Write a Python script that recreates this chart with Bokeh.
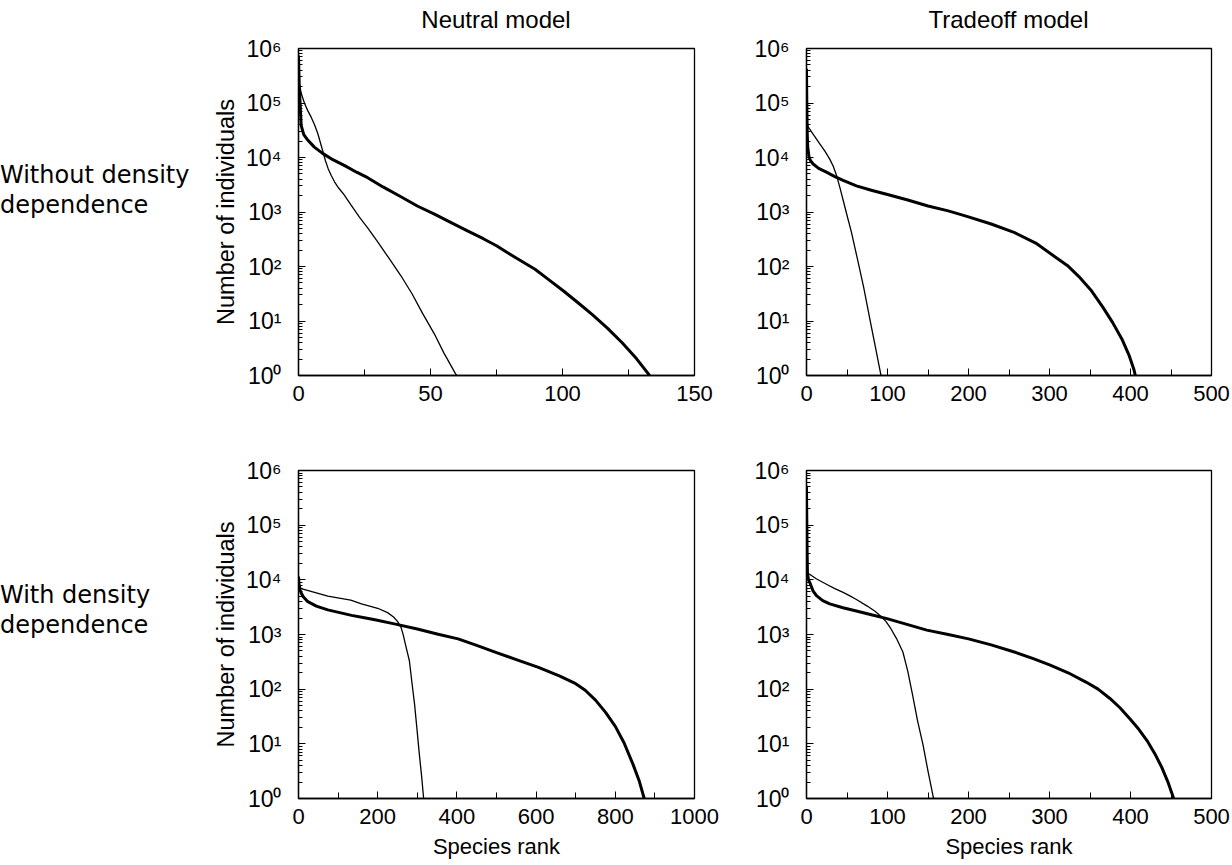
from bokeh.plotting import figure
from bokeh.models import Range1d, FixedTicker, Div
from bokeh.layouts import row, column
from bokeh.embed import file_html
from bokeh.resources import INLINE

# ---------------- data ----------------
column_titles = ["Neutral model", "Tradeoff model"]
row_titles = ["Without density<br>dependence", "With density<br>dependence"]
y_label = "Number of individuals"
x_label = "Species rank"

y_tick_values = [1, 10, 100, 1000, 10000, 100000, 1000000]
y_tick_labels = ["10⁰", "10¹", "10²", "10³", "10⁴", "10⁵", "10⁶"]

# values below are log10(number of individuals) against species rank

# Neutral model, without density dependence
nn_thick_rank = [0, 0.3, 1, 2, 3.5, 6, 9, 13, 17.5, 22, 26.2, 32, 38.8, 45, 51.5, 58, 64.2, 70, 75,
                 82, 89.6, 95, 100.4, 106, 111.2, 117, 122.6, 128, 133]
nn_thick_log = [5.87, 5.3, 4.59, 4.42, 4.32, 4.19, 4.08, 3.96, 3.85, 3.73, 3.63, 3.46, 3.28, 3.11, 2.96,
                2.80, 2.65, 2.51, 2.38, 2.17, 1.95, 1.75, 1.55, 1.33, 1.12, 0.87, 0.60, 0.31, 0]
nn_thin_rank = [0, 0.4, 1.2, 2.3, 3.5, 4.8, 6, 7.3, 8.3, 9.3, 10.2, 11.2, 12.4, 13.7, 15.2, 16.9, 20,
                23, 26.2, 30, 34, 38.8, 43, 47, 51.5, 55, 59.5, 60]
nn_thin_log = [5.45, 5.32, 5.15, 4.99, 4.86, 4.74, 4.61, 4.44, 4.27, 4.10, 3.94, 3.80, 3.67, 3.55, 3.44,
               3.34, 3.12, 2.91, 2.71, 2.45, 2.17, 1.83, 1.50, 1.14, 0.76, 0.42, 0.03, 0]

# Tradeoff model, without density dependence
tn_thick_rank = [0, 0.4, 0.9, 1.5, 3, 5, 8.2, 15, 24.6, 35, 45.2, 61.6, 80, 100, 125, 150, 175, 198,
                 228, 257, 283, 306.6, 322, 336, 351, 365.6, 378, 390, 398, 404, 406]
tn_thick_log = [5.63, 5.0, 4.45, 4.2, 4.02, 3.94, 3.88, 3.80, 3.73, 3.65, 3.58, 3.48, 3.40, 3.32, 3.22,
                3.11, 3.02, 2.92, 2.78, 2.62, 2.43, 2.18, 2.02, 1.82, 1.57, 1.26, 0.97, 0.65, 0.38, 0.12, 0]
tn_thin_rank = [0, 2, 9, 16.4, 22.5, 28.7, 33, 36.9, 41, 45.2, 50, 55.6, 63, 70.4, 80, 86, 90, 92]
tn_thin_log = [4.65, 4.56, 4.41, 4.25, 4.12, 3.97, 3.84, 3.68, 3.46, 3.22, 2.94, 2.62, 2.13, 1.63, 0.9,
               0.45, 0.15, 0]

# Neutral model, with density dependence
nd_thick_rank = [0, 1, 2, 4, 6.8, 12, 23.6, 45, 74, 104, 134, 163, 193, 245, 300, 350, 403, 450, 500,
                 550, 606, 660, 700, 724, 750, 775, 800, 822, 845, 860, 873]
nd_thick_log = [4.06, 3.95, 3.88, 3.81, 3.76, 3.69, 3.60, 3.52, 3.45, 3.40, 3.35, 3.31, 3.27, 3.19, 3.10,
                3.01, 2.92, 2.80, 2.67, 2.54, 2.40, 2.24, 2.10, 1.98, 1.80, 1.58, 1.32, 1.02, 0.62, 0.33, 0]
nd_thin_rank = [0, 6.8, 74, 132, 159, 200, 225, 240, 250, 259, 265, 270, 280, 286, 293, 299, 305, 311, 316]
nd_thin_log = [3.92, 3.84, 3.70, 3.63, 3.56, 3.48, 3.40, 3.32, 3.24, 3.13, 2.98, 2.82, 2.52, 2.15, 1.73,
               1.28, 0.82, 0.40, 0]

# Tradeoff model, with density dependence
td_thick_rank = [0, 0.3, 0.7, 1.2, 2.5, 4.1, 8, 12.3, 20, 28.7, 45, 61.6, 80, 99.3, 125, 148.5, 175, 200,
                 228, 256.6, 280, 300.9, 323, 345, 360, 374.6, 387, 399.2, 410, 421.3, 430, 438.6, 446, 453.3]
td_thick_log = [5.72, 5.2, 4.6, 4.12, 4.0, 3.95, 3.80, 3.71, 3.62, 3.56, 3.49, 3.43, 3.36, 3.29, 3.18,
                3.08, 3.00, 2.92, 2.81, 2.68, 2.56, 2.44, 2.30, 2.13, 2.00, 1.83, 1.66, 1.46, 1.27, 1.04,
                0.82, 0.57, 0.31, 0]
td_thin_rank = [0, 2, 12, 24.6, 35, 45.2, 53, 61.6, 75, 85, 92, 98, 104, 111, 119, 125, 131, 137, 144,
                150, 156, 157]
td_thin_log = [4.15, 4.12, 4.02, 3.92, 3.84, 3.77, 3.71, 3.64, 3.52, 3.42, 3.33, 3.24, 3.11, 2.93, 2.68,
               2.33, 1.89, 1.43, 0.97, 0.5, 0.06, 0]

x_max = [150, 500, 1000, 500]
x_major = [[0, 50, 100, 150], [0, 100, 200, 300, 400, 500],
           [0, 200, 400, 600, 800, 1000], [0, 100, 200, 300, 400, 500]]
x_minor = [[25, 75, 125], [50, 150, 250, 350, 450],
           [100, 300, 500, 700, 900], [50, 150, 250, 350, 450]]

# ---------------- styling ----------------
FONT = "Liberation Sans"
y_minor = [m * 10 ** d for d in range(6) for m in range(2, 10)]


def counts(logs):
    return [10 ** v for v in logs]


def panel(idx, thick, thin, fw, fh, bl, br, bt, bb, ylab=None, xlab=None):
    p = figure(frame_width=fw, frame_height=fh,
               x_range=Range1d(0, x_max[idx]), y_range=Range1d(1, 1e6),
               y_axis_type="log", output_backend="svg", toolbar_location=None,
               min_border_left=bl, min_border_right=br,
               min_border_top=bt, min_border_bottom=bb,
               background_fill_color="white", border_fill_color="white")
    p.grid.visible = False
    p.outline_line_color = "black"
    p.outline_line_width = 1.3
    p.outline_line_alpha = 1.0

    p.line(thick[0], counts(thick[1]), line_color="black", line_width=3.0, line_join="round")
    p.line(thin[0], counts(thin[1]), line_color="black", line_width=1.3, line_join="round")

    xa = p.xaxis[0]
    xa.ticker = FixedTicker(ticks=x_major[idx], minor_ticks=x_minor[idx])
    xa.major_tick_in = 7
    xa.major_tick_out = 0
    xa.minor_tick_in = 6
    xa.minor_tick_out = 0
    xa.major_label_standoff = 10
    xa.major_label_text_font = FONT
    xa.major_label_text_font_size = "22px"
    xa.major_label_text_color = "black"
    xa.axis_line_color = "black"
    xa.axis_line_width = 1.3
    xa.major_tick_line_color = "black"
    xa.minor_tick_line_color = "black"
    if xlab:
        xa.axis_label = xlab
        xa.axis_label_text_font = FONT
        xa.axis_label_text_font_size = "22px"
        xa.axis_label_text_font_style = "normal"
        xa.axis_label_text_color = "black"
        xa.axis_label_standoff = 7

    ya = p.yaxis[0]
    ya.ticker = FixedTicker(ticks=y_tick_values, minor_ticks=y_minor)
    ya.major_label_overrides = dict(zip(y_tick_values, y_tick_labels))
    ya.major_tick_in = 7
    ya.major_tick_out = 0
    ya.minor_tick_in = 4
    ya.minor_tick_out = 0
    ya.major_label_standoff = 17
    ya.major_label_text_font = FONT
    ya.major_label_text_font_size = "23px"
    ya.major_label_text_color = "black"
    ya.axis_line_color = "black"
    ya.axis_line_width = 1.3
    ya.major_tick_line_color = "black"
    ya.minor_tick_line_color = "black"
    if ylab:
        ya.axis_label = ylab
        ya.axis_label_text_font = FONT
        ya.axis_label_text_font_size = "23.5px"
        ya.axis_label_text_font_style = "normal"
        ya.axis_label_text_color = "black"
        ya.axis_label_standoff = 4
    return p


p1 = panel(0, (nn_thick_rank, nn_thick_log), (nn_thin_rank, nn_thin_log),
           396, 327, 98, 42, 18, 48, ylab=y_label)
p2 = panel(1, (tn_thick_rank, tn_thick_log), (tn_thin_rank, tn_thin_log),
           405, 327, 70, 21, 18, 48)
p3 = panel(2, (nd_thick_rank, nd_thick_log), (nd_thin_rank, nd_thin_log),
           396, 328, 98, 42, 47, 67, ylab=y_label, xlab=x_label)
p4 = panel(3, (td_thick_rank, td_thick_log), (td_thin_rank, td_thin_log),
           405, 328, 70, 21, 47, 67, xlab=x_label)


def row_label(text, top, h):
    html = ('<div style="margin-top:%dpx; font-family:\'DejaVu Sans\'; font-size:24px; '
            'line-height:30px; color:black; white-space:nowrap;">%s</div>' % (top, text))
    return Div(text=html, width=200, height=h, margin=(0, 0, 0, 0))


def col_title(text, w, left, fw):
    html = ('<div style="margin-top:5px; margin-left:%dpx; width:%dpx; text-align:center; '
            'font-family:\'Liberation Sans\'; font-size:24px; line-height:30px; color:black; '
            'white-space:nowrap;">%s</div>' % (left, fw, text))
    return Div(text=html, width=w, height=30, margin=(0, 0, 0, 0))


spacer = Div(text="", width=200, height=30, margin=(0, 0, 0, 0))
t1 = col_title(column_titles[0], 536, 98, 396)
t2 = col_title(column_titles[1], 496, 70, 405)

d1 = row_label(row_titles[0], 130, 393)
d2 = row_label(row_titles[1], 157, 442)

layout = column(row(spacer, t1, t2, spacing=0),
                row(d1, p1, p2, spacing=0),
                row(d2, p3, p4, spacing=0), spacing=0)

open("out.html", "w").write(file_html(layout, INLINE))
